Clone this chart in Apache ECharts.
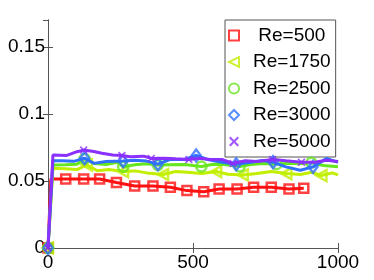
<!DOCTYPE html>
<html><head><meta charset="utf-8">
<script src="https://cdn.jsdelivr.net/npm/echarts@6/dist/echarts.min.js"></script>
<style>html,body{margin:0;padding:0;background:#fff}#c{width:374px;height:280px}</style>
</head><body><div id="c"></div>
<script>
const seriesNames = [' Re=500', 'Re=1750', 'Re=2500', 'Re=3000', 'Re=5000'];
const xTicks = [0, 500, 1000];
const yTicks = [0, 0.05, 0.1, 0.15];

const re500X = [0, 10, 61, 123, 178, 236, 299, 362, 422, 479, 537, 590, 652, 709, 770, 831, 882];
const re500Y = [0, 0.0515, 0.0515, 0.0515, 0.0515, 0.0488, 0.0463, 0.0463, 0.0453, 0.0428, 0.042, 0.044, 0.044, 0.0453, 0.0453, 0.044, 0.0446];
const re500M = [0, 2, 3, 4, 5, 6, 7, 8, 9, 10, 11, 12, 13, 14, 15, 16];

const re1750X = [0, 17, 60, 100, 134, 170, 210, 259, 300, 340, 397, 440, 480, 530, 580, 620, 672, 720, 770, 822, 870, 910, 943, 980, 1000];
const re1750Y = [0, 0.0594, 0.059, 0.0585, 0.062, 0.0576, 0.0585, 0.057, 0.0575, 0.056, 0.0548, 0.057, 0.0565, 0.0555, 0.057, 0.055, 0.0545, 0.0555, 0.057, 0.0555, 0.0548, 0.0565, 0.054, 0.056, 0.0545];
const re1750M = [0, 4, 7, 10, 14, 16, 19, 22];

const re2500X = [0, 17, 60, 100, 126, 160, 200, 240, 259, 300, 340, 379, 420, 470, 529, 570, 610, 661, 700, 740, 788, 830, 870, 908, 950, 1000];
const re2500Y = [0, 0.0619, 0.062, 0.0625, 0.0665, 0.063, 0.0622, 0.064, 0.0605, 0.062, 0.0628, 0.0618, 0.062, 0.0622, 0.0607, 0.0625, 0.0622, 0.0607, 0.0622, 0.063, 0.0625, 0.0632, 0.0628, 0.0636, 0.0615, 0.0606];
const re2500M = [0, 4, 8, 11, 14, 17, 20, 23];

const re3000X = [0, 17, 50, 89, 126, 158, 200, 259, 300, 340, 379, 420, 470, 511, 550, 600, 649, 700, 740, 776, 820, 870, 914, 960, 1000];
const re3000Y = [0, 0.0651, 0.065, 0.0646, 0.067, 0.0631, 0.0645, 0.0648, 0.0655, 0.0648, 0.0625, 0.066, 0.066, 0.069, 0.066, 0.064, 0.0625, 0.064, 0.0652, 0.064, 0.0605, 0.058, 0.0605, 0.0668, 0.0638];
const re3000M = [0, 4, 7, 10, 13, 16, 19, 22];

const re5000X = [0, 17, 65, 100, 123, 158, 186, 223, 255, 284, 330, 356, 400, 440, 486, 520, 560, 600, 638, 680, 720, 774, 820, 874, 920, 960, 1000];
const re5000Y = [0, 0.0693, 0.069, 0.0718, 0.073, 0.072, 0.0706, 0.0693, 0.069, 0.068, 0.0685, 0.0668, 0.067, 0.0665, 0.066, 0.067, 0.066, 0.066, 0.063, 0.065, 0.0645, 0.066, 0.065, 0.064, 0.064, 0.0655, 0.0645];
const re5000M = [0, 4, 8, 11, 14, 18, 21, 23];

const colors = ['#ff1010', '#c2ef00', '#66e61e', '#3070ff', '#8a30ff'];
const symbols = ['rect', 'path://M10,0 L10,10 L0,5 Z', 'circle', 'diamond',
  'path://M0,1.5 L1.5,0 L5,3.5 L8.5,0 L10,1.5 L6.5,5 L10,8.5 L8.5,10 L5,6.5 L1.5,10 L0,8.5 L3.5,5 Z'];
const symSizes = [9, [10, 11], 10, [9, 12], 8];

const allX = [re500X, re1750X, re2500X, re3000X, re5000X];
const allY = [re500Y, re1750Y, re2500Y, re3000Y, re5000Y];
const allM = [re500M, re1750M, re2500M, re3000M, re5000M];

const font = '"Liberation Sans", Arial, sans-serif';
const series = [];
for (let k = 0; k < 5; k++) {
  const pts = allX[k].map((x, i) => [x, allY[k][i]]);
  series.push({
    type: 'line', data: pts, showSymbol: false, symbol: 'none',
    lineStyle: { color: colors[k], width: 3 }, itemStyle: { color: colors[k] },
    z: 2 + k * 2, silent: true, animation: false
  });
  const isX = k === 4;
  series.push({
    type: 'scatter', name: seriesNames[k],
    data: allM[k].map(i => pts[i]),
    symbol: symbols[k], symbolSize: symSizes[k],
    itemStyle: isX ? { color: colors[k] } :
      { color: 'rgba(255,255,255,0)', borderColor: colors[k], borderWidth: 2.5 },
    z: 3 + k * 2, animation: false
  });
}

const chart = echarts.init(document.getElementById('c'));
chart.setOption({
  animation: false,
  grid: { left: 48, right: 36, top: 20, bottom: 32 },
  legend: {
    orient: 'vertical', left: 225, top: 20,
    backgroundColor: '#fff', borderColor: '#555', borderWidth: 1,
    padding: [6, 5, 6, 3],
    itemWidth: 10, itemHeight: 10, itemGap: 7.5,
    data: seriesNames,
    textStyle: { fontFamily: font, fontSize: 19, color: '#000', lineHeight: 19, padding: [0, 0, 0, 9] }
  },
  xAxis: [{
    type: 'value', min: 0, max: 1000, interval: 500,
    axisLine: { show: true, lineStyle: { color: '#555' } },
    axisTick: { show: true, inside: true, length: 5, lineStyle: { color: '#555' } },
    axisLabel: { fontFamily: font, fontSize: 19, color: '#000', margin: 5, formatter: v => String(v) },
    splitLine: { show: false }
  }, {
    type: 'value', min: 0, max: 1000, interval: 500, position: 'top',
    axisLine: { show: true, lineStyle: { color: '#555' } },
    axisTick: { show: true, inside: true, length: 5, lineStyle: { color: '#555' } },
    axisLabel: { show: false }, splitLine: { show: false }
  }],
  yAxis: [{
    type: 'value', min: 0, max: 0.17, interval: 0.05,
    axisLine: { show: true, lineStyle: { color: '#555' } },
    axisTick: { show: true, inside: true, length: 5, lineStyle: { color: '#555' } },
    axisLabel: { fontFamily: font, fontSize: 19, color: '#000', margin: 3, showMaxLabel: false },
    splitLine: { show: false }
  }, {
    type: 'value', min: 0, max: 0.17, interval: 0.05, position: 'right',
    axisLine: { show: true, lineStyle: { color: '#555' } },
    axisTick: { show: true, inside: true, length: 5, lineStyle: { color: '#555' } },
    axisLabel: { show: false }, splitLine: { show: false }
  }],
  series: series
});
</script></body></html>
